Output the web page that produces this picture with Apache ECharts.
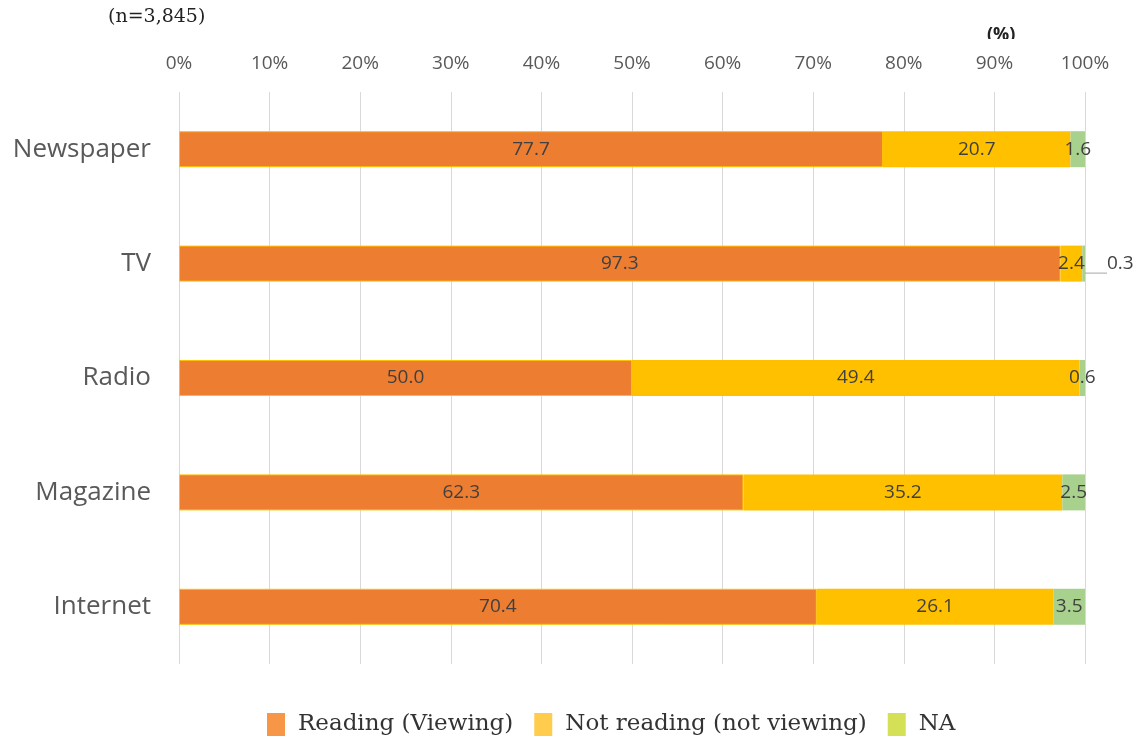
<!DOCTYPE html>
<html>
<head>
<meta charset="utf-8">
<script src="https://cdn.jsdelivr.net/npm/echarts@6/dist/echarts.min.js"></script>
<style>
html, body { margin: 0; padding: 0; background: #fff; }
#main { width: 1136px; height: 741px; }
</style>
</head>
<body>
<div id="main"></div>
<script>
// data
const categories = ['Newspaper', 'TV', 'Radio', 'Magazine', 'Internet']
const reading = [77.7, 97.3, 50.0, 62.3, 70.4]
const notReading = [20.7, 2.4, 49.4, 35.2, 26.1]
const na = [1.6, 0.3, 0.6, 2.5, 3.5]
const xTicks = [0, 10, 20, 30, 40, 50, 60, 70, 80, 90, 100]

const chart = echarts.init(document.getElementById('main'))

const labelStyle = {
    show: true,
    position: 'inside',
    color: '#404040',
    fontSize: 19,
    fontFamily: 'Open Sans',
    formatter: p => p.value.toFixed(1)
}

chart.setOption({
    animation: false,
    grid: {
        left: 179,
        right: 51,
        top: 92,
        height: 572
    },
    legend: {
        bottom: 0,
        left: 262,
        itemWidth: 18,
        itemHeight: 23,
        itemGap: 21,
        icon: 'rect',
        textStyle: { fontFamily: 'DejaVu Serif', fontSize: 23, color: '#333', padding: [0, 0, 0, 8] },
        data: [
            { name: 'Reading (Viewing)', itemStyle: { color: '#F79646', borderWidth: 0 } },
            { name: 'Not reading (not viewing)', itemStyle: { color: '#FFCC4D', borderWidth: 0 } },
            { name: 'NA', itemStyle: { color: '#D4E157', borderWidth: 0 } }
        ]
    },
    xAxis: {
        type: 'value',
        position: 'top',
        min: xTicks[0],
        max: xTicks[xTicks.length - 1],
        interval: 10,
        axisLine: { show: false },
        axisTick: { show: false },
        axisLabel: {
            color: '#595959',
            fontSize: 19,
            fontFamily: 'Open Sans',
            margin: 19,
            formatter: '{value}%'
        },
        splitLine: { lineStyle: { color: '#D9D9D9', width: 1 } }
    },
    yAxis: {
        type: 'category',
        inverse: true,
        data: categories,
        axisLine: { show: false },
        axisTick: { show: false },
        axisLabel: {
            color: '#595959',
            fontSize: 26,
            fontFamily: 'Open Sans',
            margin: 28
        }
    },
    series: [
        {
            name: 'Reading (Viewing)',
            type: 'bar',
            stack: 'total',
            barWidth: 36,
            itemStyle: { color: '#ED7D31', borderColor: '#FFC000', borderWidth: 1 },
            label: labelStyle,
            data: reading
        },
        {
            name: 'Not reading (not viewing)',
            type: 'bar',
            stack: 'total',
            barWidth: 36,
            itemStyle: { color: '#FFC000' },
            label: labelStyle,
            data: notReading
        },
        {
            name: 'NA',
            type: 'bar',
            stack: 'total',
            barWidth: 36,
            itemStyle: { color: '#A9D18E' },
            label: labelStyle,
            labelLine: { show: true, lineStyle: { color: '#A6A6A6', width: 1 } },
            data: na.map((v, i) => i === 1 ? {
                value: v,
                label: { position: 'right', distance: 22 }
            } : v)
        }
    ],
    graphic: [
        {
            type: 'text',
            left: 108,
            top: 8,
            style: { text: '(n=3,845)', font: '19px "DejaVu Serif"', fill: '#222' }
        },
        {
            type: 'text',
            left: 987,
            top: 26,
            style: { text: '(%)', font: 'bold 18px "Open Sans"', fill: '#222' }
        },
        {
            type: 'rect',
            left: 980,
            top: 39,
            shape: { width: 50, height: 12 },
            style: { fill: '#fff' }
        }
    ]
})
</script>
</body>
</html>
